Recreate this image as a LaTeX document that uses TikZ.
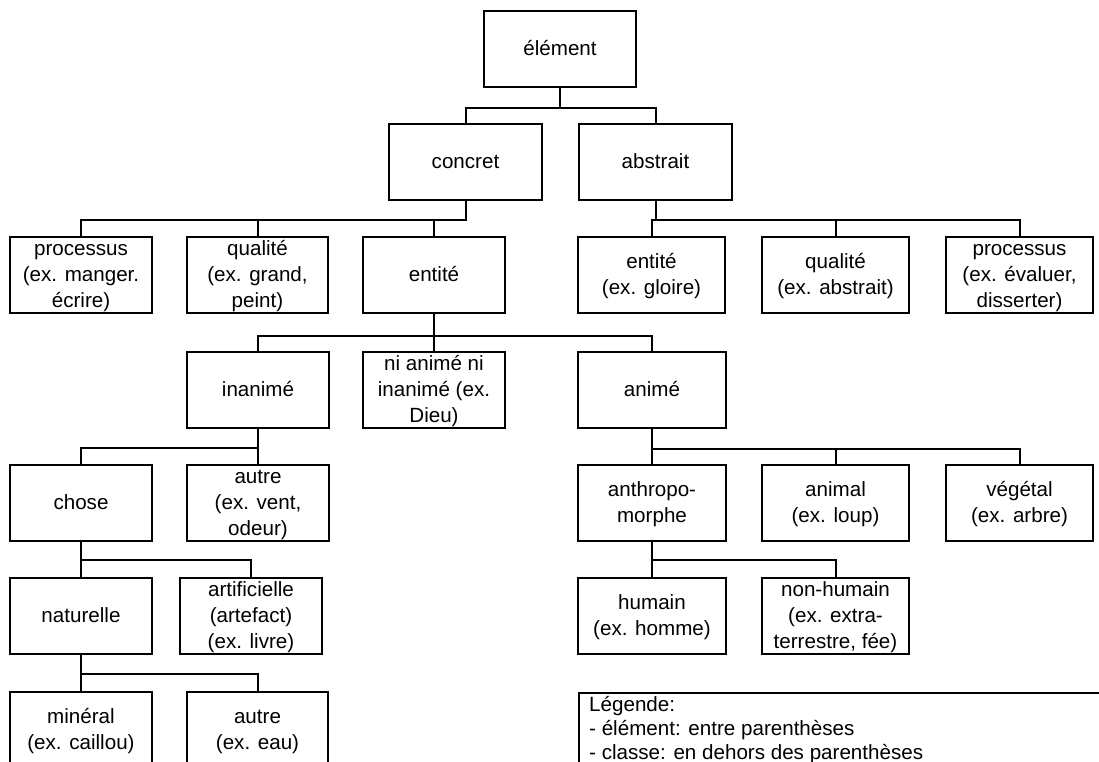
\documentclass[tikz,border=0pt]{standalone}
\usepackage{fontspec}
\setmainfont{Liberation Sans}
\newcommand\bxt[1]{\begin{tabular}{@{}c@{}}\rule{0pt}{21pt}#1\end{tabular}}
\begin{document}
\begin{tikzpicture}[x=1pt,y=-1pt,
  box/.style={draw, line width=2pt, inner xsep=0pt, inner ysep=-6pt, minimum height=76pt,
    font=\fontsize{20.6}{26}\selectfont},
  conn/.style={line width=2pt}]
\useasboundingbox (0,0) rectangle (1099,761);
% level 0
\node[box, minimum width=152] (elem) at (560,48.5) {\bxt{élément}};
% level 1
\node[box, minimum width=153] (concret) at (465.5,162) {\bxt{concret}};
\node[box, minimum width=153] (abstrait) at (655.5,162) {\bxt{abstrait}};
% level 2
\node[box, minimum width=142] (procL) at (81,275) {\bxt{processus\\(ex. manger.\\écrire)}};
\node[box, minimum width=141] (qualL) at (257.5,275) {\bxt{qualité\\(ex. grand,\\peint)}};
\node[box, minimum width=142] (entL) at (434,275) {\bxt{entité}};
\node[box, minimum width=147] (entR) at (651.5,275) {\bxt{entité\\(ex. gloire)}};
\node[box, minimum width=147] (qualR) at (835.5,275) {\bxt{qualité\\(ex. abstrait)}};
\node[box, minimum width=147] (procR) at (1019.5,275) {\bxt{processus\\(ex. évaluer,\\disserter)}};
% level 3
\node[box, minimum width=142] (inanime) at (258,389.5) {\bxt{inanimé}};
\node[box, minimum width=142] (ni) at (434,389.5) {\bxt{ni animé ni\\inanimé (ex.\\Dieu)}};
\node[box, minimum width=148] (anime) at (652,389.5) {\bxt{animé}};
% level 4
\node[box, minimum width=142] (chose) at (81,503) {\bxt{chose}};
\node[box, minimum width=142] (autreA) at (258,503) {\bxt{autre\\(ex. vent,\\odeur)}};
\node[box, minimum width=148] (anthro) at (652,503) {\bxt{anthropo-\\morphe}};
\node[box, minimum width=147] (animal) at (835.5,503) {\bxt{animal\\(ex. loup)}};
\node[box, minimum width=147] (vegetal) at (1019.5,503) {\bxt{végétal\\(ex. arbre)}};
% level 5
\node[box, minimum width=142] (naturelle) at (81,616) {\bxt{naturelle}};
\node[box, minimum width=142] (artif) at (251,616) {\bxt{artificielle\\(artefact)\\(ex. livre)}};
\node[box, minimum width=148] (humain) at (652,616) {\bxt{humain\\(ex. homme)}};
\node[box, minimum width=147] (nonhum) at (835.5,616) {\bxt{non-humain\\(ex. extra-\\terrestre, fée)}};
% level 6
\node[box, minimum width=142] (mineral) at (81,730) {\bxt{minéral\\(ex. caillou)}};
\node[box, minimum width=141] (autreB) at (257.5,730) {\bxt{autre\\(ex. eau)}};
% legend
\node[draw, line width=2pt, minimum width=540, minimum height=90, inner sep=0pt, anchor=north west] (leg) at (578,692) {};
\node[anchor=north west, align=left, inner sep=0pt, font=\fontsize{20.6}{24}\selectfont] (legtxt) at (589,696) {Légende:\\- élément: entre parenthèses\\- classe: en dehors des parenthèses};
% connectors
\foreach \c in {concret,abstrait} \draw[conn] (elem.south) -- ++(0,20) -| (\c.north);
\foreach \c in {procL,qualL,entL} \draw[conn] (concret.south) -- ++(0,19) -| (\c.north);
\foreach \c in {entR,qualR,procR} \draw[conn] (abstrait.south) -- ++(0,19) -| (\c.north);
\foreach \c in {inanime,ni,anime} \draw[conn] (entL.south) -- ++(0,22) -| (\c.north);
\foreach \c in {chose,autreA} \draw[conn] (inanime.south) -- ++(0,19) -| (\c.north);
\foreach \c in {anthro,animal,vegetal} \draw[conn] (anime.south) -- ++(0,20) -| (\c.north);
\foreach \c in {naturelle,artif} \draw[conn] (chose.south) -- ++(0,18) -| (\c.north);
\foreach \c in {humain,nonhum} \draw[conn] (anthro.south) -- ++(0,18) -| (\c.north);
\foreach \c in {mineral,autreB} \draw[conn] (naturelle.south) -- ++(0,19) -| (\c.north);
\end{tikzpicture}
\end{document}
